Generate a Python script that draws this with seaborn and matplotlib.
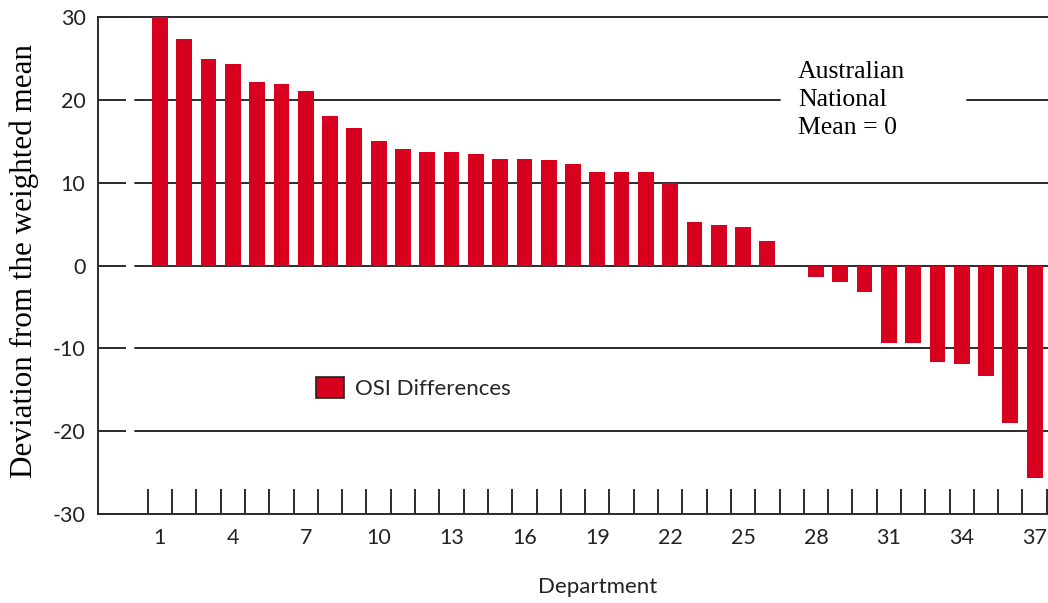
import matplotlib.pyplot as plt
import seaborn as sns
import pandas as pd
from matplotlib.patches import Patch

# --- data ---
departments = [str(d) for d in range(1, 38)]
osi_diff = [30.0, 27.4, 24.9, 24.3, 22.1, 21.9, 21.1, 18.0, 16.6, 15.0,
            14.1, 13.7, 13.7, 13.5, 12.9, 12.9, 12.7, 12.3, 11.3, 11.3,
            11.3, 10.0, 5.3, 4.9, 4.7, 2.9, 0.0, -1.4, -2.0, -3.2,
            -9.4, -9.4, -11.6, -11.9, -13.3, -19.0, -25.6]
label_departments = ["1", "4", "7", "10", "13", "16", "19", "22", "25", "28", "31", "34", "37"]
y_ticks = [-30, -20, -10, 0, 10, 20, 30]
grid_levels = [-20, -10, 0, 10]

BAR_RED = "#D7001F"
LINE = "#2b2b2b"
SERIF = ["Liberation Serif", "DejaVu Serif"]
SANS_SIZE = 15.5

sns.set_theme(style="white")
plt.rcParams['font.family'] = ['Lato', 'DejaVu Sans']

df = pd.DataFrame({"Department": departments, "OSI": osi_diff})

fig = plt.figure(figsize=(10.48, 6.03), dpi=100)
ax = fig.add_axes([98 / 1048, 1 - 514 / 603, 950 / 1048, 497 / 603])

sns.barplot(data=df, x="Department", y="OSI", order=departments, color=BAR_RED,
            saturation=1, width=0.65, linewidth=0, ax=ax, zorder=3)

ax.set_xlim(-2.55, 36.55)
ax.set_ylim(-30, 30)

# gridlines start a little right of the spine (gap after the inward tick)
gx = 37 / 950
for lv in grid_levels:
    ax.axhline(lv, xmin=gx, xmax=1, color=LINE, lw=1.4, zorder=1)
# the 20 line is interrupted by the annotation
ax.axhline(20, xmin=gx, xmax=(780 - 98) / 950, color=LINE, lw=1.4, zorder=1)
ax.axhline(20, xmin=(967 - 98) / 950, xmax=1, color=LINE, lw=1.4, zorder=1)

# y axis
ax.set_yticks(y_ticks)
ax.set_yticklabels([str(v) for v in y_ticks])
ax.tick_params(axis='y', direction='in', length=20, width=1.4, color=LINE,
               pad=9, labelsize=SANS_SIZE, labelcolor="#222222", left=True)

# x axis: inward ticks on bar boundaries, labels every third department
bounds = [i - 0.5 for i in range(len(departments) + 1)]
ax.set_xticks(bounds)
ax.set_xticklabels([])
ax.set_xticks([departments.index(d) for d in label_departments], minor=True)
ax.set_xticklabels(label_departments, minor=True)
ax.tick_params(axis='x', which='major', direction='in', length=18, width=1.4,
               color=LINE, bottom=True)
ax.tick_params(axis='x', which='minor', length=0, pad=10, labelsize=SANS_SIZE,
               labelcolor="#222222", bottom=True)

for side in ["left", "bottom", "top"]:
    ax.spines[side].set_visible(True)
    ax.spines[side].set_color(LINE)
    ax.spines[side].set_linewidth(1.4)
ax.spines["right"].set_visible(False)

ax.set_xlabel("Department", fontsize=16, color="#222222")
ax.xaxis.set_label_coords((598 - 98) / 950, (514 - 577) / 497)
ax.set_ylabel("Deviation from the weighted mean", fontsize=22.4, family=SERIF, color="black")
ax.yaxis.set_label_coords((39 - 98) / 950, 0.51)

# legend
handle = Patch(facecolor=BAR_RED, edgecolor="#222222", linewidth=1.2)
ax.legend([handle], ["OSI Differences"], loc="center left",
          bbox_to_anchor=(316 / 1048, 1 - 388 / 603), bbox_transform=fig.transFigure,
          frameon=False, handlelength=1.26, handleheight=1.1, handletextpad=0.5,
          borderpad=0, borderaxespad=0, fontsize=16)

fig.text(798 / 1048, 1 - 100 / 603, "Australian\nNational\nMean = 0", ha="left", va="center",
         fontsize=18.5, family=SERIF, color="black", linespacing=1.38)

fig.savefig("out.png", dpi=100)
